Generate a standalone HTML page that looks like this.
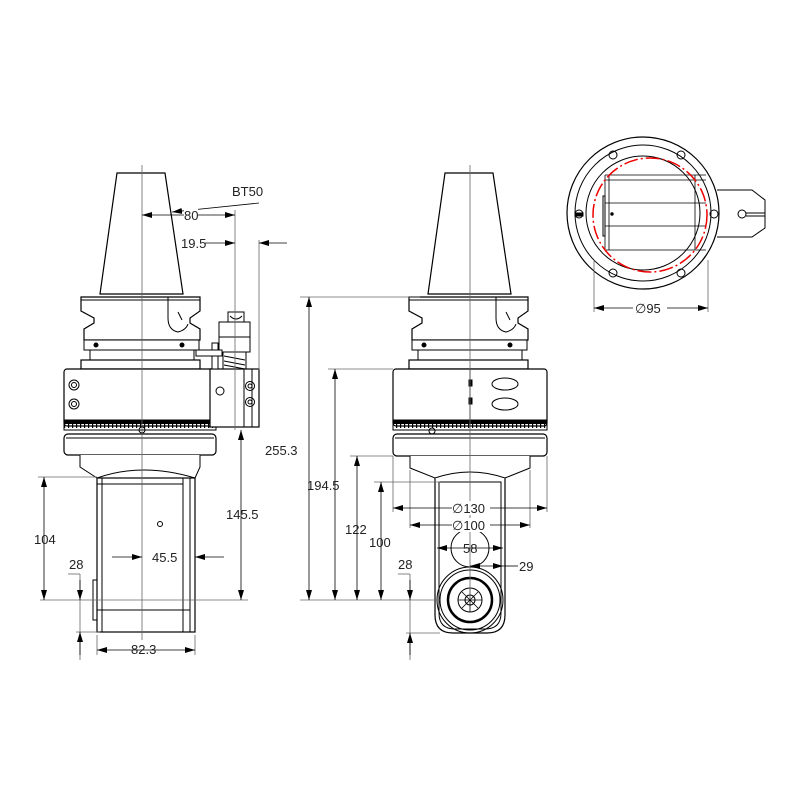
<!DOCTYPE html>
<html><head><meta charset="utf-8"><style>
html,body{margin:0;padding:0;background:#fff;}
svg{display:block;}
text{font-family:"Liberation Sans",sans-serif;font-size:13px;fill:#222;}
</style></head><body>
<svg width="800" height="800" viewBox="0 0 800 800" xmlns="http://www.w3.org/2000/svg">
<defs>
<marker id="a" viewBox="0 0 10 6" refX="10" refY="3" markerWidth="10" markerHeight="6" orient="auto-start-reverse" markerUnits="userSpaceOnUse"><path d="M0,0L10,3L0,6z" fill="#000"/></marker>
<pattern id="tk" width="4" height="10" patternUnits="userSpaceOnUse"><rect x="0" y="0" width="1.2" height="8" fill="#000"/></pattern>
<g id="flange">
<path d="M-61,297H58V311L48,318V323L58,329V340H-58V329L-48,323V318L-61,311Z" fill="#fff" stroke="#000" stroke-width="1.2"/>
<line x1="-61" y1="300" x2="58" y2="300" stroke="#000"/>
<rect x="-58" y="340" width="115" height="10" fill="#fff" stroke="#000"/>
<rect x="-52" y="350" width="104" height="10" fill="#fff" stroke="#000"/>
<rect x="-61" y="360" width="119" height="9" fill="#fff" stroke="#000" stroke-width="1.2"/>
<circle cx="-46" cy="345" r="2" fill="#000"/><circle cx="40" cy="345" r="2" fill="#000"/>
<path d="M26,297V318Q26,330 36,332Q44,330 46,324M36,312L40,320" fill="none" stroke="#000"/>
<path d="M-25,173H23L41,294H-42Z" fill="#fff" stroke="#000" stroke-width="1.2"/>
</g>
</defs>

<g stroke="#000" fill="none">
<!-- LEFT VIEW -->
<use href="#flange" x="142"/>
<rect x="64" y="369" width="152" height="57" rx="3" fill="#fff" stroke-width="1.2"/>
<rect x="64" y="420" width="152" height="3.5" fill="#000"/>
<rect x="64" y="423" width="152" height="7" fill="url(#tk)"/>
<line x1="64" y1="430" x2="216" y2="430"/>
<circle cx="142" cy="430" r="3"/>
<rect x="64" y="434" width="152" height="21" rx="4" fill="#fff" stroke-width="1.2"/>
<line x1="66" y1="438" x2="214" y2="438"/>
<path d="M80,455V467L97,478Q142,462 195,478L200,467V455" fill="#fff"/>
<rect x="97" y="478" width="98" height="154" fill="#fff" stroke-width="1.2"/>
<path d="M102,478V632M183,478V632M190,478V632M97,484H183M97,610H190"/>
<rect x="93" y="580" width="4" height="40" stroke-width="1"/>
<circle cx="160" cy="524" r="2.5"/>
<circle cx="74" cy="385" r="5"/><circle cx="74" cy="385" r="2.5"/>
<circle cx="74" cy="404" r="5"/><circle cx="74" cy="404" r="2.5"/>
<!-- side block -->
<rect x="210" y="369" width="49" height="58" fill="#fff" stroke-width="1.2"/>
<line x1="244" y1="369" x2="244" y2="427"/><line x1="252" y1="369" x2="252" y2="427"/>
<circle cx="220" cy="391" r="4"/>
<circle cx="250" cy="386" r="4.5"/><circle cx="250" cy="386" r="2"/>
<circle cx="250" cy="402" r="4.5"/><circle cx="250" cy="402" r="2"/>
<rect x="219" y="322" width="31" height="30" fill="#fff"/>
<line x1="219" y1="337" x2="250" y2="337"/>
<path d="M228,312H244V322H228Z" fill="#fff"/>
<path d="M230,316Q236,322 242,316"/>
<path d="M223,352V369M246,352V369M224,356L245,360M224,361L245,365M224,365L245,369"/>
<rect x="212" y="343" width="6" height="26" fill="#fff"/>
<rect x="196" y="350" width="26" height="6" fill="#fff"/>

<!-- MIDDLE VIEW -->
<use href="#flange" x="470"/>
<rect x="393" y="369" width="154" height="57" rx="3" fill="#fff" stroke-width="1.2"/>
<line x1="470" y1="369" x2="470" y2="426"/>
<rect x="469" y="380" width="3" height="6" fill="#000"/><rect x="469" y="398" width="3" height="6" fill="#000"/>
<ellipse cx="505" cy="384" rx="13" ry="6"/><ellipse cx="505" cy="404" rx="13" ry="6"/>
<rect x="393" y="420" width="154" height="3.5" fill="#000"/>
<rect x="393" y="423" width="154" height="7" fill="url(#tk)"/>
<line x1="393" y1="430" x2="547" y2="430"/>
<circle cx="432" cy="431" r="3"/>
<rect x="393" y="434" width="154" height="22" rx="4" fill="#fff" stroke-width="1.2"/>
<line x1="395" y1="438" x2="545" y2="438"/>
<path d="M410,456V468L435,478Q470,466 505,478L530,468V456" fill="#fff"/>
<path d="M435,478V615Q435,633 453,633H487Q505,633 505,615V478" fill="#fff" stroke-width="1.2"/>
<path d="M439,482V613Q439,629 455,629H485Q501,629 501,613V482Z"/>
<circle cx="470" cy="548" r="19" fill="#fff"/>
<circle cx="470" cy="600" r="33"/><circle cx="470" cy="600" r="30"/>
<circle cx="470" cy="600" r="22" stroke-width="2.5"/>
<circle cx="470" cy="600" r="12"/><circle cx="470" cy="600" r="5"/>
<path d="M470,588V612M458,600H482M462,592L478,608M478,592L462,608" stroke-width="0.8"/>
<!-- RIGHT VIEW -->
<circle cx="643" cy="213" r="76" stroke-width="1.2"/>
<circle cx="643" cy="213" r="68"/>
<circle cx="643" cy="213" r="57"/>
<path d="M717,190H752L765,200V228L752,237H717"/>
<circle cx="742" cy="214" r="4"/><path d="M746,213H765M746,216H765"/>
<circle cx="613" cy="155" r="4"/><circle cx="681" cy="155" r="4"/>
<circle cx="613" cy="273" r="4"/><circle cx="681" cy="273" r="4"/>
<circle cx="714" cy="214" r="4"/>
<circle cx="579" cy="214" r="4"/><rect x="575" y="213" width="8" height="3" fill="#000"/>
<path d="M605,175H706M605,180H706M605,203H706M605,226H706M605,250H706M605,175V250M609,175V250M695,175V250" stroke-width="0.8"/>
<rect x="603" y="196" width="2" height="40"/>
<circle cx="612" cy="214" r="1.2" fill="#000"/>
<circle cx="650" cy="215" r="57" stroke="#e00" stroke-width="1.5" stroke-dasharray="14,3,2,3"/>
</g>

<g stroke="#666" stroke-width="0.8" fill="none">
<line x1="142" y1="165" x2="142" y2="640"/>
<line x1="470" y1="165" x2="470" y2="600"/>
<line x1="235" y1="210" x2="235" y2="430"/>
<line x1="259" y1="240" x2="259" y2="370"/>
<line x1="40" y1="600" x2="248" y2="600"/>
<line x1="38" y1="477" x2="97" y2="477"/>
<line x1="80" y1="574" x2="80" y2="660"/><line x1="68" y1="574" x2="80" y2="574"/>
<line x1="76" y1="632" x2="100" y2="632"/>
<line x1="97" y1="635" x2="97" y2="655"/><line x1="195" y1="635" x2="195" y2="655"/>
<line x1="300" y1="297" x2="420" y2="297"/>
<line x1="300" y1="600" x2="440" y2="600"/>
<line x1="328" y1="369" x2="393" y2="369"/>
<line x1="350" y1="456" x2="393" y2="456"/>
<line x1="374" y1="482" x2="440" y2="482"/>
<line x1="410" y1="574" x2="410" y2="660"/><line x1="398" y1="574" x2="410" y2="574"/>
<line x1="406" y1="633" x2="440" y2="633"/>
<line x1="393" y1="456" x2="393" y2="512"/><line x1="547" y1="456" x2="547" y2="512"/>
<line x1="410" y1="470" x2="410" y2="528"/><line x1="530" y1="470" x2="530" y2="528"/>
<line x1="594" y1="260" x2="594" y2="312"/><line x1="708" y1="260" x2="708" y2="312"/>
</g>
<g stroke="#000" stroke-width="0.8" fill="none">
<line x1="259" y1="203" x2="172" y2="212" marker-end="url(#a)"/>
<line x1="142" y1="215" x2="235" y2="215" marker-start="url(#a)" marker-end="url(#a)"/>
<line x1="205" y1="243" x2="235" y2="243" marker-end="url(#a)"/>
<line x1="287" y1="243" x2="259" y2="243" marker-end="url(#a)"/>
<line x1="241" y1="430" x2="241" y2="600" marker-start="url(#a)" marker-end="url(#a)"/>
<line x1="44" y1="477" x2="44" y2="600" marker-start="url(#a)" marker-end="url(#a)"/>
<line x1="80" y1="580" x2="80" y2="600" marker-end="url(#a)"/>
<line x1="80" y1="655" x2="80" y2="632" marker-end="url(#a)"/>
<line x1="97" y1="650" x2="195" y2="650" marker-start="url(#a)" marker-end="url(#a)"/>
<line x1="112" y1="557" x2="142" y2="557" marker-end="url(#a)"/>
<line x1="224" y1="557" x2="195" y2="557" marker-end="url(#a)"/>
<line x1="309" y1="297" x2="309" y2="600" marker-start="url(#a)" marker-end="url(#a)"/>
<line x1="335" y1="369" x2="335" y2="600" marker-start="url(#a)" marker-end="url(#a)"/>
<line x1="357" y1="456" x2="357" y2="600" marker-start="url(#a)" marker-end="url(#a)"/>
<line x1="381" y1="482" x2="381" y2="600" marker-start="url(#a)" marker-end="url(#a)"/>
<line x1="410" y1="580" x2="410" y2="600" marker-end="url(#a)"/>
<line x1="410" y1="655" x2="410" y2="633" marker-end="url(#a)"/>
<line x1="393" y1="508" x2="547" y2="508" marker-start="url(#a)" marker-end="url(#a)"/>
<line x1="410" y1="525" x2="530" y2="525" marker-start="url(#a)" marker-end="url(#a)"/>
<line x1="437" y1="548" x2="503" y2="548" marker-start="url(#a)" marker-end="url(#a)"/>
<line x1="470" y1="566" x2="503" y2="566" marker-start="url(#a)" marker-end="url(#a)"/>
<line x1="503" y1="566" x2="518" y2="566"/>
<line x1="594" y1="308" x2="708" y2="308" marker-start="url(#a)" marker-end="url(#a)"/>
</g>
<g>
<rect x="184" y="208" width="14" height="13" fill="#fff"/><text x="184" y="220">80</text>
<text x="232" y="196">BT50</text>
<text x="181" y="248">19.5</text>
<text x="226" y="519">145.5</text>
<text x="34" y="544">104</text>
<text x="69" y="569">28</text>
<text x="131" y="654">82.3</text>
<text x="152" y="562">45.5</text>
<text x="265" y="455">255.3</text>
<text x="307" y="490">194.5</text>
<text x="345" y="534">122</text>
<text x="369" y="547">100</text>
<text x="398" y="569">28</text>
<rect x="452" y="501" width="38" height="14" fill="#fff"/><text x="452" y="513">∅130</text>
<rect x="452" y="518" width="38" height="14" fill="#fff"/><text x="452" y="530">∅100</text>
<text x="463" y="553">58</text>
<text x="519" y="571">29</text>
<rect x="633" y="301" width="34" height="14" fill="#fff"/><text x="635" y="313">∅95</text>
</g>
</svg>
</body></html>
